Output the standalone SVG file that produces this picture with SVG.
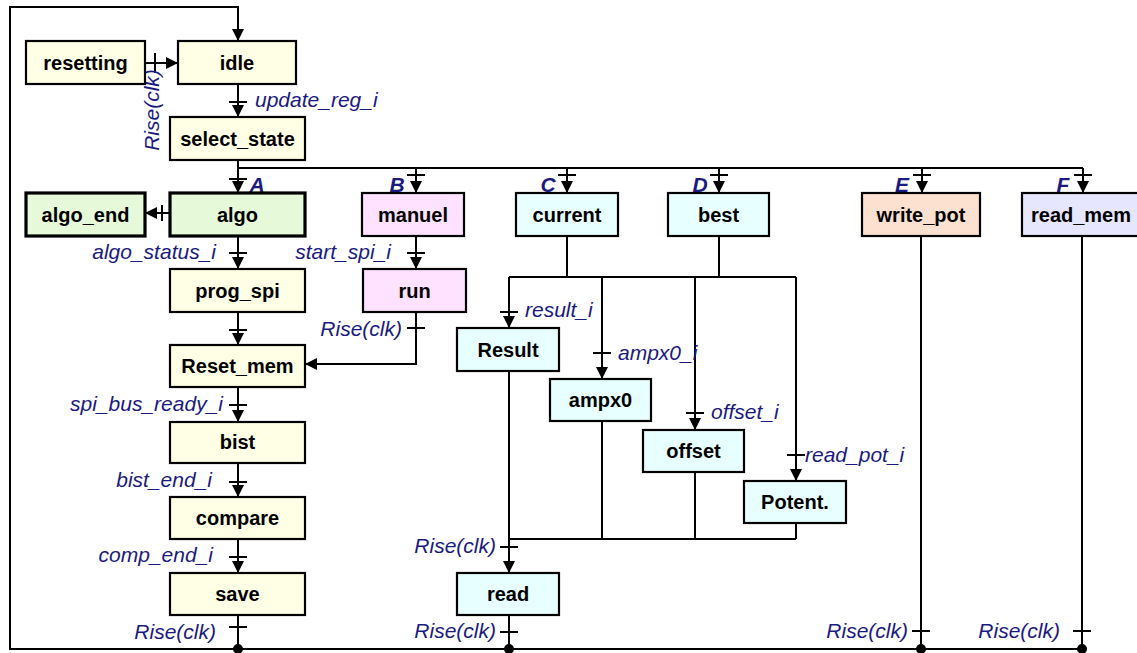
<svg xmlns="http://www.w3.org/2000/svg" width="1137" height="653" viewBox="0 0 1137 653">
<style>
.box{stroke:#000;stroke-width:2.2}
.thick{stroke-width:3.2}
.y{fill:#FFFFE6}.g{fill:#E6FADA}.p{fill:#FFE2FF}.c{fill:#E8FFFF}.o{fill:#FDE1D0}.l{fill:#E6E6FF}
.t{font-family:"Liberation Sans",Arial,sans-serif;font-weight:bold;font-size:20px;fill:#000;text-anchor:middle}
.lb{font-family:"Liberation Sans",Arial,sans-serif;font-style:italic;font-size:21px;fill:#1a1a80}
.r{text-anchor:end}
.let{font-family:"Liberation Sans",Arial,sans-serif;font-style:italic;font-weight:bold;font-size:21px;fill:#1a1a80;text-anchor:middle}
.w{fill:none;stroke:#000;stroke-width:2}
.a{fill:none;stroke:#000;stroke-width:2;marker-end:url(#ah)}
.k{fill:none;stroke:#000;stroke-width:2}
</style>
<defs>
<marker id="ah" viewBox="0 0 10 10" refX="10" refY="5" markerWidth="12" markerHeight="12" markerUnits="userSpaceOnUse" orient="auto">
<path d="M0,0 L10,5 L0,10 z" fill="#000"/>
</marker>
</defs>
<g id="connectors">
<path class="a" d="M1082,649 L10,649 L10,7 L238,7 L238,41"/>
<path class="a" d="M145,63 L178,63"/><path class="k" d="M155,53 L155,73"/>
<path class="a" d="M238,84 L238,117"/><path class="k" d="M229,102 L247,102"/>
<path class="w" d="M238,168 L1083,168"/>
<path class="a" d="M238,160 L238,193"/><path class="k" d="M229,179 L247,179"/>
<path class="a" d="M416,168 L416,193"/><path class="k" d="M407,175 L425,175"/>
<path class="a" d="M567,168 L567,193"/><path class="k" d="M558,175 L576,175"/>
<path class="a" d="M719,168 L719,193"/><path class="k" d="M710,175 L728,175"/>
<path class="a" d="M922,168 L922,193"/><path class="k" d="M913,175 L931,175"/>
<path class="a" d="M1083,168 L1083,193"/><path class="k" d="M1074,175 L1092,175"/>
<path class="a" d="M170,213 L145,213"/><path class="k" d="M162,205 L162,221"/>
<path class="a" d="M238,236 L238,269"/><path class="k" d="M229,253 L247,253"/>
<path class="a" d="M238,312 L238,345"/><path class="k" d="M229,330 L247,330"/>
<path class="a" d="M238,387 L238,422"/><path class="k" d="M229,405 L247,405"/>
<path class="a" d="M238,463 L238,497"/><path class="k" d="M229,482 L247,482"/>
<path class="a" d="M238,539 L238,573"/><path class="k" d="M229,557 L247,557"/>
<path class="w" d="M238,615 L238,649"/><path class="k" d="M229,627 L247,627"/>
<path class="a" d="M416,236 L416,269"/><path class="k" d="M407,253 L425,253"/>
<path class="a" d="M416,312 L416,364 L305,364"/><path class="k" d="M407,328 L425,328"/>
<path class="w" d="M567,236 L567,277"/><path class="w" d="M719,236 L719,277"/>
<path class="w" d="M509,277 L796,277"/>
<path class="a" d="M509,277 L509,328"/><path class="k" d="M500,312 L518,312"/>
<path class="a" d="M602,277 L602,379"/><path class="k" d="M593,353 L611,353"/>
<path class="a" d="M695,277 L695,430"/><path class="k" d="M686,413 L704,413"/>
<path class="a" d="M796,277 L796,481"/><path class="k" d="M787,455 L805,455"/>
<path class="a" d="M509,371 L509,573"/><path class="k" d="M500,547 L518,547"/>
<path class="w" d="M602,421 L602,539"/><path class="w" d="M695,472 L695,539"/><path class="w" d="M796,523 L796,539"/>
<path class="w" d="M509,539 L796,539"/>
<path class="w" d="M509,615 L509,649"/><path class="k" d="M500,632 L518,632"/>
<path class="w" d="M921,236 L921,649"/><path class="k" d="M912,631 L930,631"/>
<path class="w" d="M1082,236 L1082,649"/><path class="k" d="M1073,631 L1091,631"/>
<circle cx="238" cy="649" r="5"/><circle cx="509" cy="649" r="5"/><circle cx="921" cy="649" r="5"/><circle cx="1082" cy="649" r="5"/>
</g>
<g id="labels">
<text class="lb" transform="translate(159,110) rotate(-90)" text-anchor="middle">Rise(clk)</text>
<text class="lb" x="255" y="107">update_reg_i</text>
<text class="let" x="257" y="192">A</text>
<text class="let" x="397" y="192">B</text>
<text class="let" x="548" y="192">C</text>
<text class="let" x="700" y="192">D</text>
<text class="let" x="902" y="192">E</text>
<text class="let" x="1063" y="192">F</text>
<text class="lb r" x="216" y="259">algo_status_i</text>
<text class="lb r" x="391" y="259">start_spi_i</text>
<text class="lb r" x="402" y="336">Rise(clk)</text>
<text class="lb r" x="223" y="411">spi_bus_ready_i</text>
<text class="lb r" x="212" y="487">bist_end_i</text>
<text class="lb r" x="213" y="562">comp_end_i</text>
<text class="lb r" x="216" y="639">Rise(clk)</text>
<text class="lb" x="525" y="317">result_i</text>
<text class="lb" x="618" y="360">ampx0_i</text>
<text class="lb" x="711" y="419">offset_i</text>
<text class="lb" x="805" y="462">read_pot_i</text>
<text class="lb r" x="496" y="553">Rise(clk)</text>
<text class="lb r" x="496" y="638">Rise(clk)</text>
<text class="lb r" x="908" y="638">Rise(clk)</text>
<text class="lb r" x="1060" y="638">Rise(clk)</text>
</g>
<g id="resetting"><rect class="box y" x="26" y="41" width="119" height="43"/><text class="t" x="85.5" y="70">resetting</text></g>
<g id="idle"><rect class="box y" x="178" y="41" width="118" height="43"/><text class="t" x="237" y="70">idle</text></g>
<g id="select_state"><rect class="box y" x="170" y="117" width="135" height="43"/><text class="t" x="237.5" y="146">select_state</text></g>
<g id="algo_end"><rect class="box thick g" x="26" y="193" width="119" height="43"/><text class="t" x="85.5" y="222">algo_end</text></g>
<g id="algo"><rect class="box thick g" x="170" y="193" width="135" height="43"/><text class="t" x="237.5" y="222">algo</text></g>
<g id="prog_spi"><rect class="box y" x="170" y="269" width="135" height="43"/><text class="t" x="237.5" y="298">prog_spi</text></g>
<g id="Reset_mem"><rect class="box y" x="170" y="345" width="135" height="42"/><text class="t" x="237.5" y="373">Reset_mem</text></g>
<g id="bist"><rect class="box y" x="170" y="422" width="135" height="41"/><text class="t" x="237.5" y="449">bist</text></g>
<g id="compare"><rect class="box y" x="170" y="497" width="135" height="42"/><text class="t" x="237.5" y="525">compare</text></g>
<g id="save"><rect class="box y" x="170" y="573" width="135" height="42"/><text class="t" x="237.5" y="601">save</text></g>
<g id="manuel"><rect class="box p" x="362" y="193" width="102" height="43"/><text class="t" x="413" y="222">manuel</text></g>
<g id="run"><rect class="box p" x="363" y="269" width="103" height="43"/><text class="t" x="414.5" y="298">run</text></g>
<g id="current"><rect class="box c" x="516" y="193" width="102" height="43"/><text class="t" x="567" y="222">current</text></g>
<g id="best"><rect class="box c" x="668" y="193" width="101" height="43"/><text class="t" x="718.5" y="222">best</text></g>
<g id="write_pot"><rect class="box o" x="862" y="193" width="118" height="43"/><text class="t" x="921" y="222">write_pot</text></g>
<g id="read_mem"><rect class="box l" x="1022" y="193" width="120" height="43"/><text class="t" x="1081" y="222">read_mem</text></g>
<g id="Result"><rect class="box c" x="457" y="328" width="102" height="43"/><text class="t" x="508" y="357">Result</text></g>
<g id="ampx0"><rect class="box c" x="550" y="379" width="101" height="42"/><text class="t" x="600.5" y="407">ampx0</text></g>
<g id="offset"><rect class="box c" x="643" y="430" width="101" height="42"/><text class="t" x="693.5" y="458">offset</text></g>
<g id="Potent"><rect class="box c" x="744" y="481" width="102" height="42"/><text class="t" x="795" y="509">Potent.</text></g>
<g id="read"><rect class="box c" x="457" y="573" width="102" height="42"/><text class="t" x="508" y="601">read</text></g>
</svg>
